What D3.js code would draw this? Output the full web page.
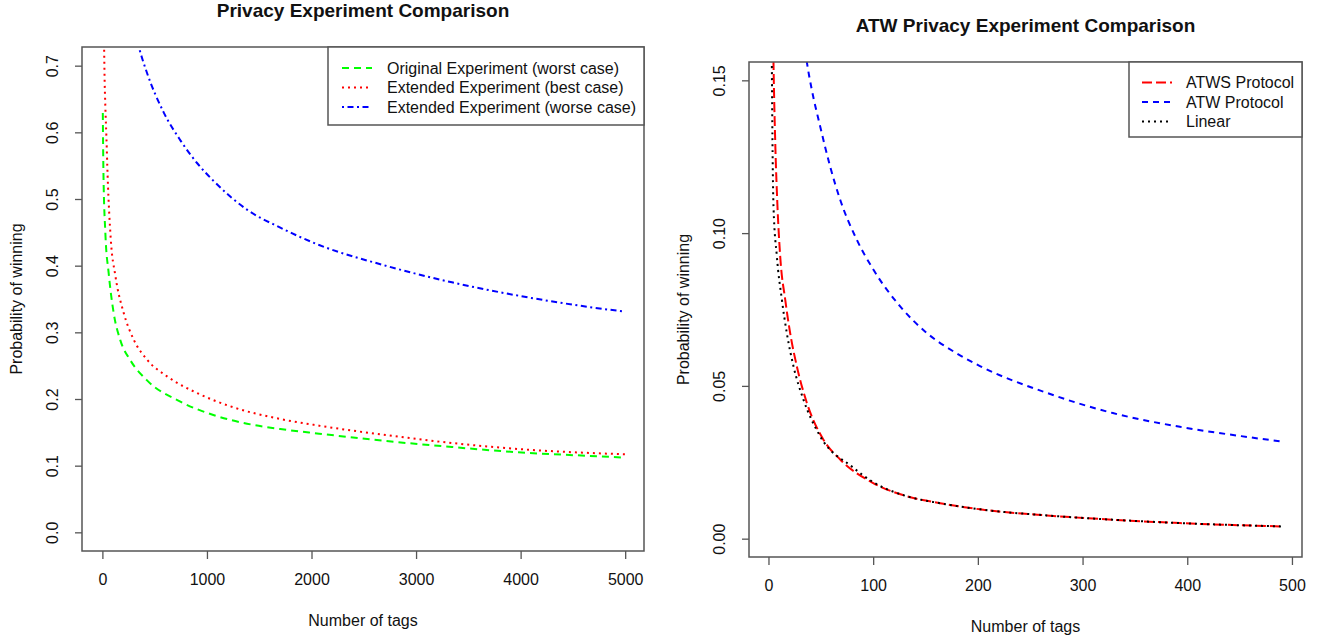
<!DOCTYPE html>
<html>
<head>
<meta charset="utf-8">
<script src="https://cdn.jsdelivr.net/npm/d3@7"></script>
<style>
  body { margin: 0; background: #fff; }
  text { font-family: "Liberation Sans", Arial, sans-serif; fill: #111; }
</style>
</head>
<body>
<div id="chart"></div>
<script>
// ---- data ----
// left panel: Privacy Experiment Comparison
var origTags = [4, 10, 29, 60, 108, 172, 268, 427, 746, 1061, 1383, 1702, 2073, 2709, 3343, 3978, 4883, 5000];
var origProb = [0.629, 0.540, 0.447, 0.389, 0.329, 0.288, 0.258, 0.228, 0.196, 0.176, 0.163, 0.155, 0.148, 0.137, 0.128, 0.120, 0.113, 0.112];

var bestTags = [14, 20, 28, 38, 50, 80, 124, 204, 300, 427, 618, 905, 1224, 1702, 2073, 2709, 3343, 3978, 5000];
var bestProb = [0.76, 0.69, 0.64, 0.595, 0.535, 0.44, 0.385, 0.329, 0.289, 0.259, 0.234, 0.209, 0.189, 0.170, 0.160, 0.146, 0.134, 0.125, 0.117];

var worseTags = [320, 352, 427, 586, 746, 905, 1064, 1383, 1702, 2073, 2709, 3343, 3978, 4947, 5000];
var worseProb = [0.745, 0.726, 0.689, 0.630, 0.588, 0.554, 0.527, 0.484, 0.457, 0.431, 0.400, 0.375, 0.355, 0.332, 0.331];

// right panel: ATW Privacy Experiment Comparison
var atwsTags = [4, 4.8, 6.4, 8.6, 11.2, 16, 20.7, 27.1, 36.7, 52.5, 68.5, 100, 132, 164, 202, 266, 329, 393, 490];
var atwsProb = [0.175, 0.1557, 0.1306, 0.1087, 0.0924, 0.0782, 0.0673, 0.0564, 0.0444, 0.0324, 0.0259, 0.0182, 0.0139, 0.0116, 0.0096, 0.0076, 0.0062, 0.0051, 0.0040];

var atwTags = [35, 36.7, 41.4, 49.4, 58.9, 68.5, 84.4, 100.3, 125.8, 151.3, 180, 202, 266, 329, 393, 457, 490];
var atwProb = [0.160, 0.1559, 0.1469, 0.1349, 0.1218, 0.1109, 0.0978, 0.0880, 0.0760, 0.0673, 0.0606, 0.0565, 0.0477, 0.0411, 0.0366, 0.0333, 0.0318];

var linearTags = [2.5, 3.2, 3.8, 4.8, 8, 12.8, 17.5, 23.9, 33.4, 49.4, 80, 100, 132, 164, 202, 266, 329, 393, 490];
var linearProb = [0.19, 0.1557, 0.1306, 0.1087, 0.0924, 0.0782, 0.0673, 0.0564, 0.0455, 0.0335, 0.0235, 0.0185, 0.0139, 0.0116, 0.0096, 0.0076, 0.0062, 0.0051, 0.0040];

// tick values
var leftXTicks = [0, 1000, 2000, 3000, 4000, 5000];
var leftYTicks = [0, 0.1, 0.2, 0.3, 0.4, 0.5, 0.6, 0.7];
var rightXTicks = [0, 100, 200, 300, 400, 500];
var rightYTicks = [0, 0.05, 0.10, 0.15];

var svg = d3.select("#chart")
  .append("svg")
  .attr("width", 1323)
  .attr("height", 641);

function zip(xs, ys) {
  return xs.map(function(x, i) { return { x: x, y: ys[i] }; });
}

// draws one R-style base plot panel
function drawPanel(p) {
  var x = d3.scaleLinear().domain(p.xDomain).range([p.left, p.right]);
  var y = d3.scaleLinear().domain(p.yDomain).range([p.bottom, p.top]);

  var clipId = "clip-" + p.id;
  svg.append("clipPath").attr("id", clipId)
    .append("rect")
    .attr("x", p.left).attr("y", p.top)
    .attr("width", p.right - p.left).attr("height", p.bottom - p.top);

  // x axis
  var xAxis = svg.append("g")
    .attr("transform", `translate(0, ${p.bottom})`)
    .call(d3.axisBottom(x).tickValues(p.xTicks).tickSize(8).tickFormat(d3.format("d")));
  xAxis.select(".domain").remove();
  xAxis.selectAll("line").attr("stroke", "#555").attr("stroke-width", 1.3);
  xAxis.selectAll("text")
    .attr("y", 28).attr("dy", "0.35em")
    .style("font-size", "16px").attr("fill", "#111");

  // y axis, labels rotated like R's las = 0
  var yAxis = svg.append("g")
    .attr("transform", `translate(${p.left}, 0)`)
    .call(d3.axisLeft(y).tickValues(p.yTicks).tickSize(7).tickFormat(d3.format(p.yFormat)));
  yAxis.select(".domain").remove();
  yAxis.selectAll("line").attr("stroke", "#555").attr("stroke-width", 1.3);
  yAxis.selectAll("text")
    .attr("x", 0).attr("dy", "0.35em")
    .attr("text-anchor", "middle")
    .attr("transform", "translate(-30,0) rotate(-90)")
    .style("font-size", "16px").attr("fill", "#111");

  // curves
  var line = d3.line()
    .x(function(d) { return x(d.x); })
    .y(function(d) { return y(d.y); })
    .curve(d3.curveMonotoneX);

  var curves = svg.append("g").attr("clip-path", `url(#${clipId})`);
  p.series.forEach(function(s) {
    curves.append("path")
      .datum(zip(s.tags, s.prob))
      .attr("d", line)
      .attr("fill", "none")
      .attr("stroke", s.color)
      .attr("stroke-width", 2)
      .attr("stroke-dasharray", s.dash);
  });

  // plot box
  svg.append("rect")
    .attr("x", p.left).attr("y", p.top)
    .attr("width", p.right - p.left).attr("height", p.bottom - p.top)
    .attr("fill", "none").attr("stroke", "#555").attr("stroke-width", 1.5);

  // legend
  var lg = p.legend;
  svg.append("rect")
    .attr("x", lg.x0).attr("y", p.top)
    .attr("width", p.right - lg.x0).attr("height", lg.y1 - p.top)
    .attr("fill", "#fff").attr("stroke", "#555").attr("stroke-width", 1.5);
  p.series.forEach(function(s, i) {
    var yy = lg.rows[i];
    svg.append("line")
      .attr("x1", lg.lineX[0]).attr("x2", lg.lineX[1])
      .attr("y1", yy).attr("y2", yy)
      .attr("stroke", s.color).attr("stroke-width", 2)
      .attr("stroke-dasharray", s.dash);
    svg.append("text")
      .attr("x", lg.textX).attr("y", yy).attr("dy", "0.35em")
      .style("font-size", "16px")
      .text(s.name);
  });

  // titles
  var cx = (p.left + p.right) / 2;
  svg.append("text")
    .attr("x", cx).attr("y", p.top - 37).attr("dy", "0.35em")
    .attr("text-anchor", "middle")
    .style("font-size", "19px").style("font-weight", "bold")
    .text(p.title);
  svg.append("text")
    .attr("x", cx).attr("y", p.bottom + 69).attr("dy", "0.35em")
    .attr("text-anchor", "middle")
    .style("font-size", "16px")
    .text("Number of tags");
  svg.append("text")
    .attr("transform", `translate(${p.left - 66}, ${(p.top + p.bottom) / 2}) rotate(-90)`)
    .attr("dy", "0.35em")
    .attr("text-anchor", "middle")
    .style("font-size", "16px")
    .text("Probability of winning");
}

drawPanel({
  id: "left",
  title: "Privacy Experiment Comparison",
  left: 82, right: 644, top: 47, bottom: 551,
  xDomain: [-195, 5180], yDomain: [-0.028, 0.728],
  xTicks: leftXTicks, yTicks: leftYTicks, yFormat: ".1f",
  series: [
    { name: "Original Experiment (worst case)", tags: origTags, prob: origProb, color: "#00ff00", dash: "7,5" },
    { name: "Extended Experiment (best case)", tags: bestTags, prob: bestProb, color: "#ff0000", dash: "2,4" },
    { name: "Extended Experiment (worse case)", tags: worseTags, prob: worseProb, color: "#0000ff", dash: "2,3.5,6,3.5" }
  ],
  legend: { x0: 328, y1: 125, rows: [68, 87.5, 107], lineX: [342, 372], textX: 387 }
});

drawPanel({
  id: "right",
  title: "ATW Privacy Experiment Comparison",
  left: 749, right: 1302, top: 62, bottom: 557,
  xDomain: [-18.6, 509.6], yDomain: [-0.006, 0.156],
  xTicks: rightXTicks, yTicks: rightYTicks, yFormat: ".2f",
  series: [
    { name: "ATWS Protocol", tags: atwsTags, prob: atwsProb, color: "#ff0000", dash: "10,4" },
    { name: "ATW Protocol", tags: atwTags, prob: atwProb, color: "#0000ff", dash: "6,5" },
    { name: "Linear", tags: linearTags, prob: linearProb, color: "#000000", dash: "2,4" }
  ],
  legend: { x0: 1129, y1: 137, rows: [82.5, 102, 121.5], lineX: [1142, 1172], textX: 1186 }
});
</script>
</body>
</html>
